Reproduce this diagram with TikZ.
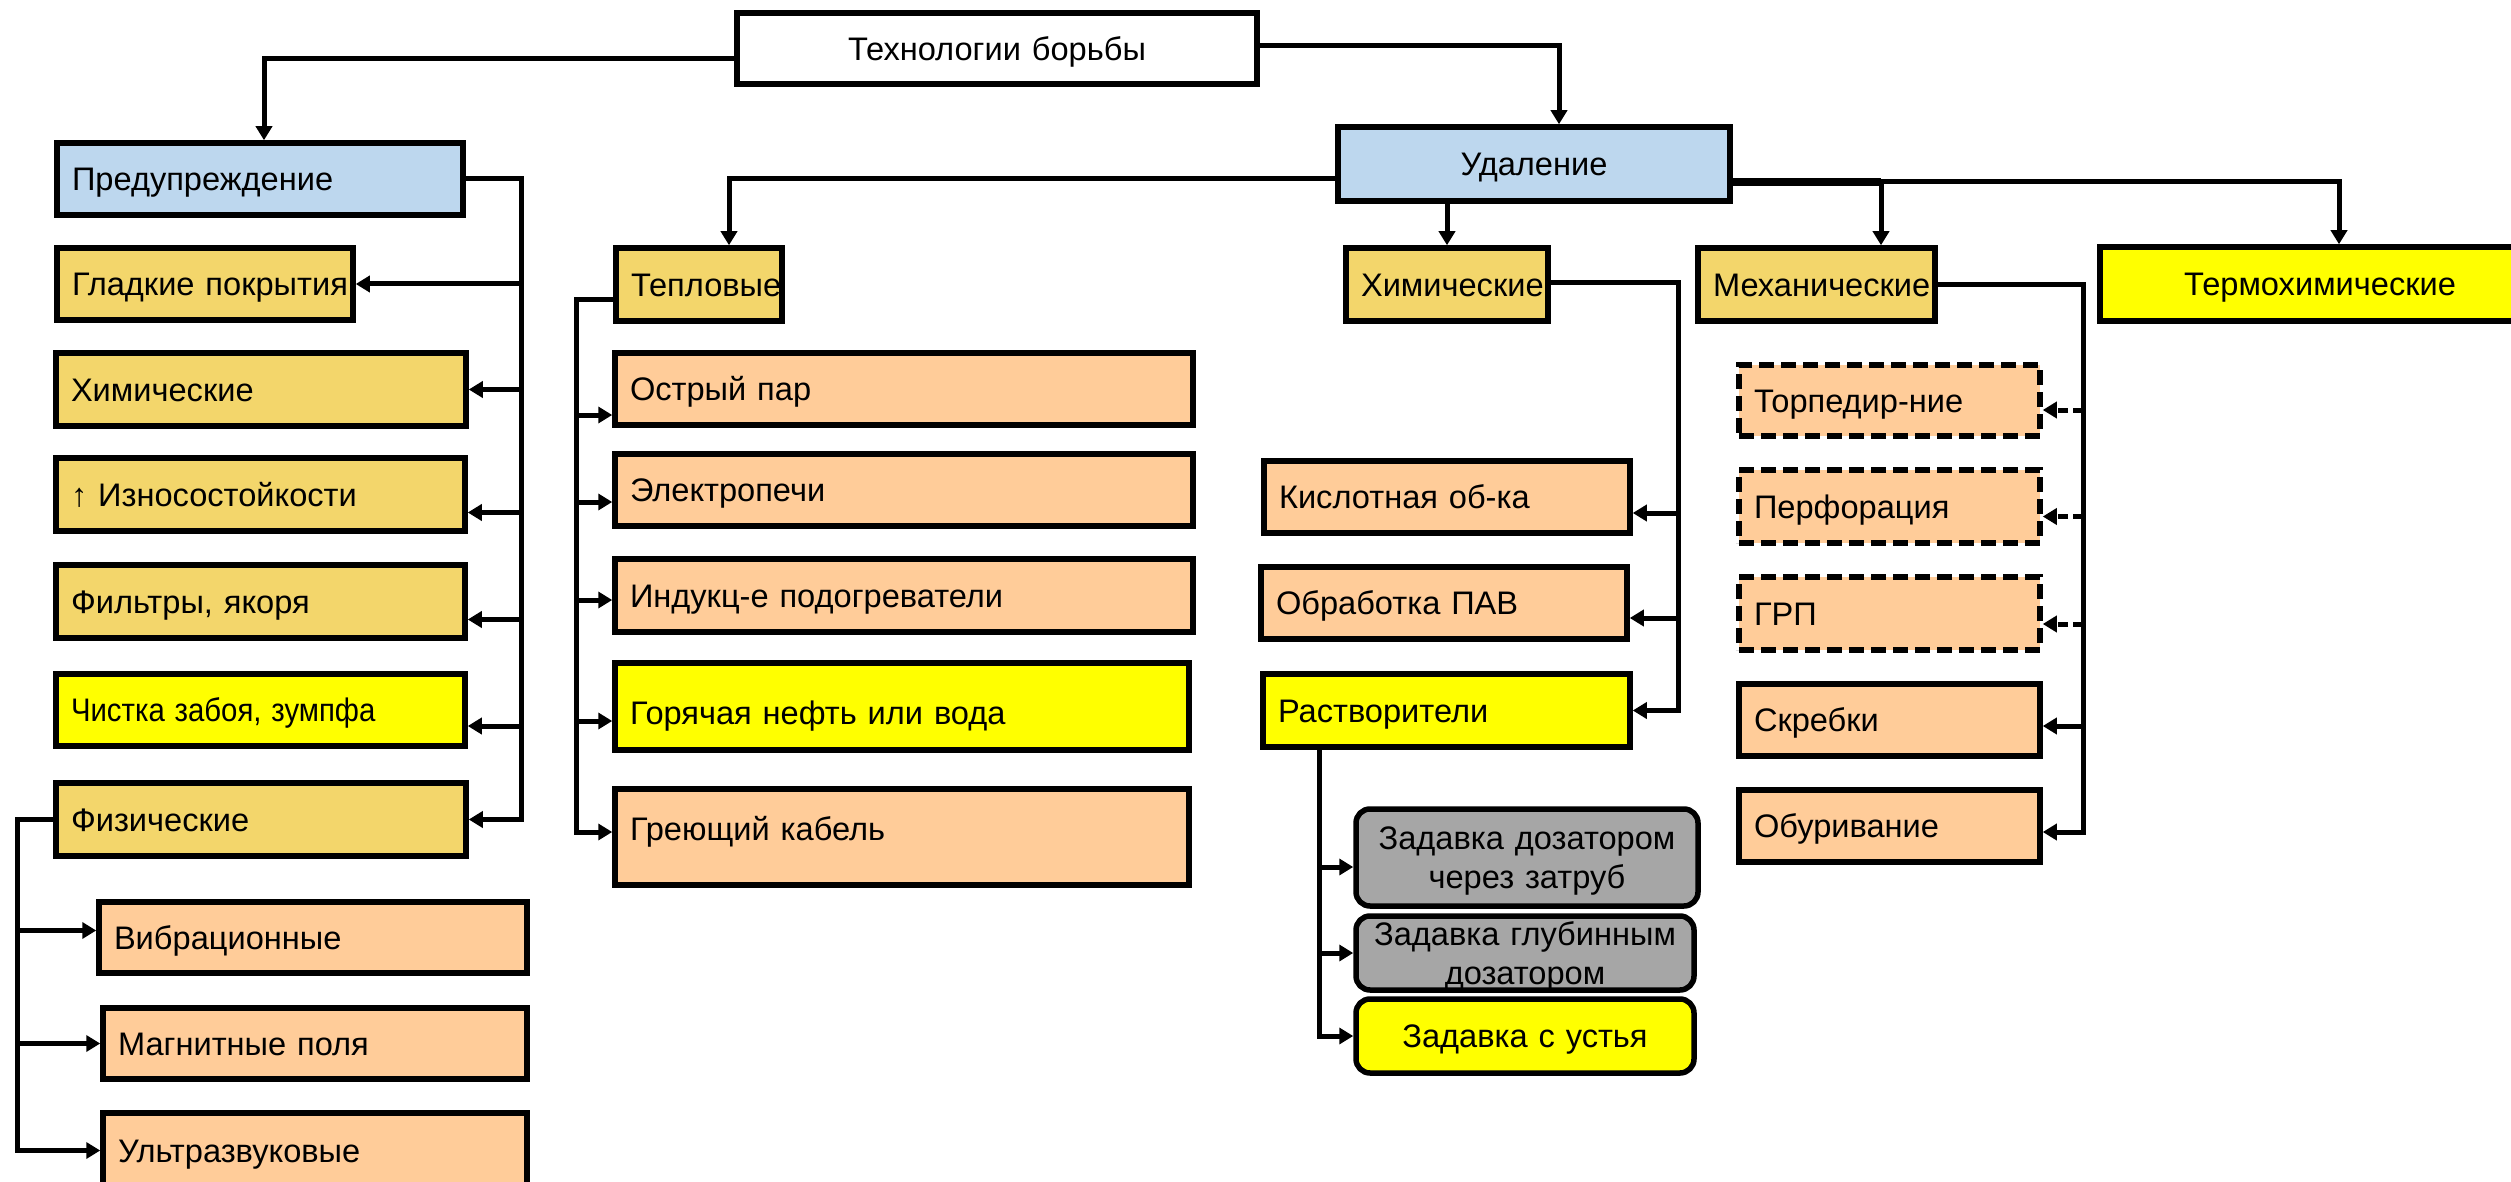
\documentclass[tikz,border=0pt]{standalone}
\usepackage{fontspec}
\setmainfont{Liberation Sans}
\usepackage{graphicx}
\usetikzlibrary{arrows.meta,calc}
\definecolor{cblue}{HTML}{BDD7EE}
\definecolor{cgold}{HTML}{F3D66B}
\definecolor{cpeach}{HTML}{FFCC99}
\definecolor{cyel}{HTML}{FFFF00}
\definecolor{cgray}{HTML}{A6A6A6}
\tikzset{
  bx/.style={draw=black, line width=5.5pt, rectangle, inner xsep=15pt, inner ysep=0pt,
    text height=23.5pt, text depth=0pt, font=\fontsize{32.6pt}{39pt}\selectfont, line join=miter},
  lft/.style={align=left},
  ctr/.style={align=center},
  fwhite/.style={fill=white},
  fblue/.style={fill=cblue},
  fgold/.style={fill=cgold},
  fpeach/.style={fill=cpeach},
  fyel/.style={fill=cyel},
  fgray/.style={fill=cgray},
  dbox/.style={dash pattern=on 15pt off 7pt},
  rnd/.style={rounded corners=14pt},
  twoline/.style={text depth=39pt},
  conn/.style={line width=5pt, line join=miter, -{Triangle[length=14pt,width=16pt]}},
  dconn/.style={conn, dash pattern=on 10pt off 5pt},
  ln/.style={line width=5pt, line join=miter},
}
\newcommand{\mkbox}[7]{%
  \pgfmathsetmacro{\mkw}{#5-#3}%
  \pgfmathsetmacro{\mkh}{#6-#4}%
  \pgfmathsetmacro{\mktw}{#5-#3-30}%
  \node[bx,#1,minimum width=\mkw pt,minimum height=\mkh pt,text width=\mktw pt] (#2) at ({(#3+#5)/2},{(#4+#6)/2}) {#7};%
}
\begin{document}
\begin{tikzpicture}[x=1pt,y=-1pt]
\path[use as bounding box, fill=white] (0,0) rectangle (2511,1182);
% boxes
\mkbox{fwhite,ctr}{tech}{737}{13}{1257}{84}{Технологии борьбы}
\mkbox{fblue,lft}{prev}{57}{143}{463}{215}{\mbox{Предупреждение}}
\mkbox{fgold,lft}{gladk}{57}{248}{353}{320}{\mbox{Гладкие покрытия}}
\mkbox{fgold,lft}{khimA}{56}{353}{466}{426}{\mbox{Химические}}
\mkbox{fgold,lft}{izn}{56}{458}{465}{531}{\mbox{↑ Износостойкости}}
\mkbox{fgold,lft}{filt}{56}{565}{465}{638}{\mbox{Фильтры, якоря}}
\mkbox{fyel,lft}{chist}{56}{674}{465}{746}{\mbox{\scalebox{0.9}[1]{Чистка забоя, зумпфа}}}
\mkbox{fgold,lft}{fiz}{56}{783}{466}{856}{\mbox{Физические}}
\mkbox{fpeach,lft}{vib}{99}{902}{527}{973}{\mbox{Вибрационные}}
\mkbox{fpeach,lft}{magn}{103}{1008}{527}{1079}{\mbox{Магнитные поля}}
\mkbox{fpeach,lft}{ultra}{103}{1113}{527}{1188}{\mbox{Ультразвуковые}}
\mkbox{fgold,lft}{tepl}{616}{248}{782}{321}{\mbox{Тепловые}}
\mkbox{fpeach,lft}{ostr}{615}{353}{1193}{425}{\mbox{Острый пар}}
\mkbox{fpeach,lft}{elek}{615}{454}{1193}{526}{\mbox{Электропечи}}
\mkbox{fpeach,lft}{indk}{615}{559}{1193}{632}{\mbox{Индукц-е подогреватели}}
\mkbox{fyel,lft,text height=35.5pt}{gor}{615}{663}{1189}{750}{\mbox{Горячая нефть или вода}}
\mkbox{fpeach,lft,text depth=16pt}{grey}{615}{789}{1189}{885}{\mbox{Греющий кабель}}
\mkbox{fblue,ctr}{udal}{1338}{127}{1730}{201}{Удаление}
\mkbox{fgold,lft}{khimB}{1346}{248}{1548}{321}{\mbox{Химические}}
\mkbox{fpeach,lft}{kisl}{1264}{461}{1630}{533}{\mbox{Кислотная об-ка}}
\mkbox{fpeach,lft}{pav}{1261}{567}{1627}{639}{\mbox{Обработка ПАВ}}
\mkbox{fyel,lft}{rastv}{1263}{674}{1630}{747}{\mbox{Растворители}}
\mkbox{fgray,rnd,ctr,twoline}{zA}{1356}{809}{1698}{906}{Задавка дозатором\\через затруб}
\mkbox{fgray,rnd,ctr,twoline}{zB}{1356}{916}{1694}{990}{Задавка глубинным\\дозатором}
\mkbox{fyel,rnd,ctr}{zC}{1356}{999}{1694}{1073}{Задавка с устья}
\mkbox{fgold,lft}{mech}{1698}{248}{1935}{321}{\mbox{Механические}}
\mkbox{fpeach,dbox,lft}{torp}{1739}{365}{2040}{436}{\mbox{Торпедир-ние}}
\mkbox{fpeach,dbox,lft}{perf}{1739}{470}{2040}{543}{\mbox{Перфорация}}
\mkbox{fpeach,dbox,lft}{grp}{1739}{577}{2040}{650}{\mbox{ГРП}}
\mkbox{fpeach,lft}{skreb}{1739}{684}{2040}{756}{\mbox{Скребки}}
\mkbox{fpeach,lft}{obur}{1739}{790}{2040}{862}{\mbox{Обуривание}}
\mkbox{fyel,ctr}{thermo}{2100}{247}{2540}{321}{Термохимические}
% bus coordinates
\coordinate (pbus) at (521,0);
\coordinate (fbus) at (17,0);
\coordinate (tbus) at (576,0);
\coordinate (kbus) at (1678,0);
\coordinate (mbus) at (2083,0);
\coordinate (rbus) at (1319,0);
% top level
\draw[conn] ($(tech.west)+(0,10)$) -| ($(prev.north)+(4,0)$);
\draw[conn] ($(tech.east)+(0,-3)$) -| ($(udal.north)+(25,0)$);
\draw[conn] ($(udal.west)+(0,15)$) -| ($(tepl.north)+(30,0)$);
\draw[conn] (udal.south -| khimB.north) -- (khimB.north);
\coordinate (ur) at ($(udal.east)+(0,18)$);
\coordinate (mj) at ($(mech.north)+(64.5,0)$);
\draw[line width=8pt] (ur) -- (ur -| mj);
\draw[conn] (ur) -| ($(thermo.north)+(19,0)$);
\draw[conn] (ur -| mj) -- (mj);
% prevention branch
\draw[conn] (prev.east) -| (pbus |- fiz.east) -- (fiz.east);
\draw[conn] (pbus |- gladk.east) -- (gladk.east);
\draw[conn] (pbus |- khimA.east) -- (khimA.east);
\draw[conn] ($(pbus |- izn.east)+(0,18)$) -- ($(izn.east)+(0,18)$);
\draw[conn] ($(pbus |- filt.east)+(0,18)$) -- ($(filt.east)+(0,18)$);
\draw[conn] ($(pbus |- chist.east)+(0,16)$) -- ($(chist.east)+(0,16)$);
% physical
\draw[conn] (fiz.west) -| (fbus |- ultra.west) -- (ultra.west);
\draw[conn] ($(fbus |- vib.west)+(0,-7)$) -- ($(vib.west)+(0,-7)$);
\draw[conn] (fbus |- magn.west) -- (magn.west);
% thermal
\draw[conn] ($(tepl.west)+(0,15)$) -| ($(tbus |- grey.west)+(0,-5)$) -- ($(grey.west)+(0,-5)$);
\draw[conn] ($(tbus |- ostr.west)+(0,26)$) -- ($(ostr.west)+(0,26)$);
\draw[conn] ($(tbus |- elek.west)+(0,12)$) -- ($(elek.west)+(0,12)$);
\draw[conn] ($(tbus |- indk.west)+(0,4.5)$) -- ($(indk.west)+(0,4.5)$);
\draw[conn] ($(tbus |- gor.west)+(0,14.5)$) -- ($(gor.west)+(0,14.5)$);
% chemical
\draw[conn] ($(khimB.east)+(0,-1.5)$) -| (kbus |- rastv.east) -- (rastv.east);
\draw[conn] ($(kbus |- kisl.east)+(0,16)$) -- ($(kisl.east)+(0,16)$);
\draw[conn] ($(kbus |- pav.east)+(0,15)$) -- ($(pav.east)+(0,15)$);
% solvents
\draw[conn] (rastv.south -| rbus) -- (rbus |- zC.west) -- (zC.west);
\draw[conn] ($(rbus |- zA.west)+(0,9.5)$) -- ($(zA.west)+(0,9.5)$);
\draw[conn] (rbus |- zB.west) -- (zB.west);
% mechanical
\draw[conn] (mech.east) -| ($(mbus |- obur.east)+(0,6)$) -- ($(obur.east)+(0,6)$);
\draw[dconn] ($(mbus |- torp.east)+(0,9.5)$) -- ($(torp.east)+(0,9.5)$);
\draw[dconn] ($(mbus |- perf.east)+(0,10)$) -- ($(perf.east)+(0,10)$);
\draw[dconn] ($(mbus |- grp.east)+(0,10.5)$) -- ($(grp.east)+(0,10.5)$);
\draw[conn] ($(mbus |- skreb.east)+(0,6)$) -- ($(skreb.east)+(0,6)$);
\end{tikzpicture}
\end{document}
